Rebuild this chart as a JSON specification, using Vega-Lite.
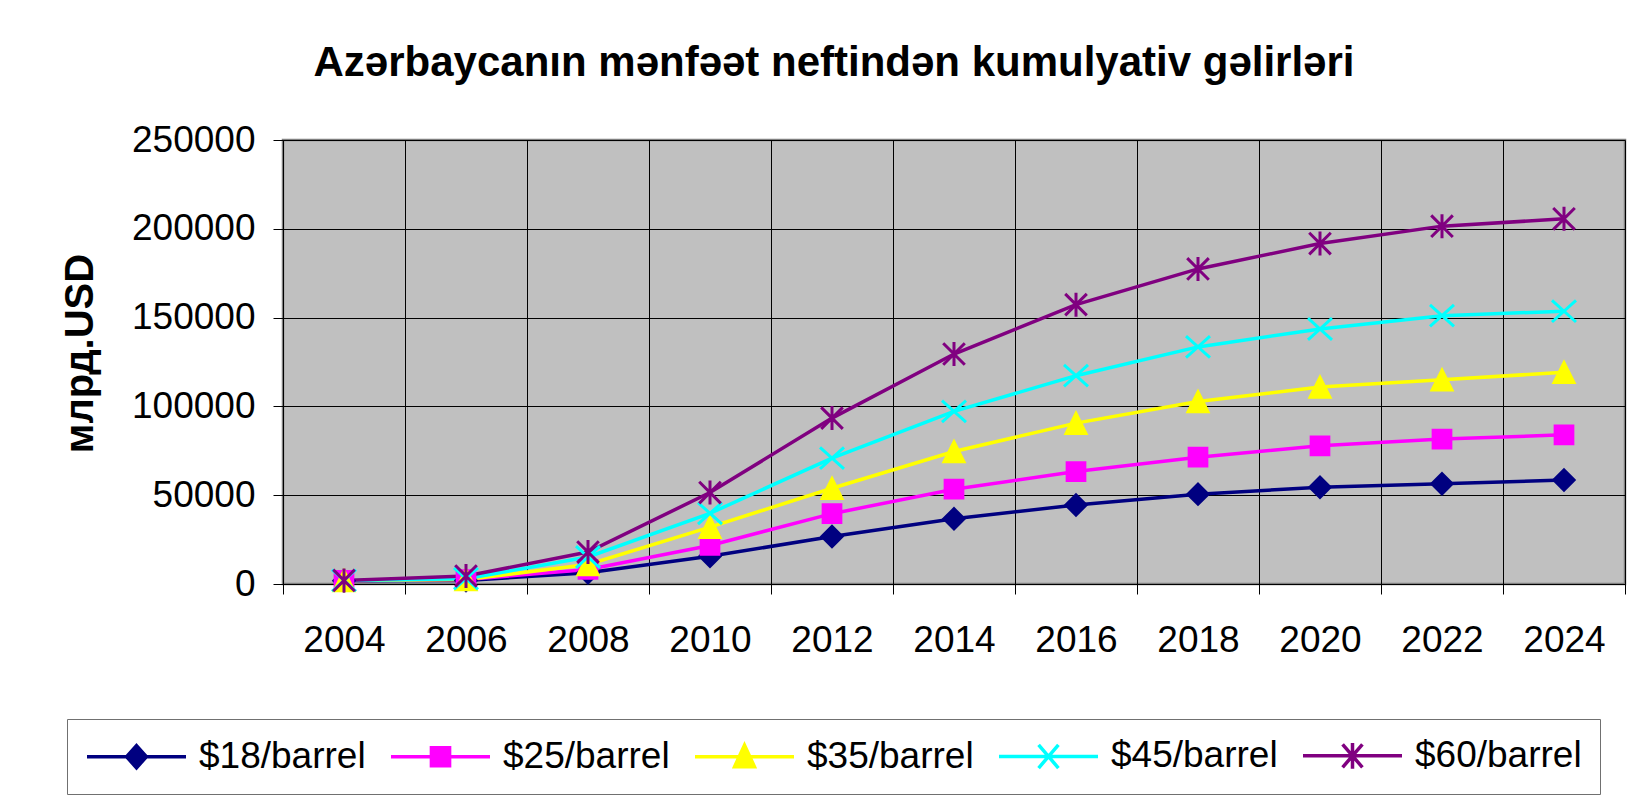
{
  "$schema": "https://vega.github.io/schema/vega-lite/v6.json",
  "width": 1342,
  "height": 444,
  "padding": {"left": 60, "top": 42, "right": 10, "bottom": 5},
  "background": "white",
  "config": {
    "font": "Liberation Sans",
    "view": {"fill": "#C0C0C0", "stroke": "#808080", "strokeWidth": 2.5},
    "legend": {
      "orient": "none",
      "legendX": -216,
      "legendY": 579,
      "direction": "horizontal",
      "strokeColor": "#707070",
      "fillColor": "#FFFFFF",
      "padding": 18,
      "symbolSize": 1089,
      "symbolOffset": 33,
      "symbolStrokeWidth": 3.5,
      "symbolOpacity": 1,
      "labelFontSize": 37,
      "labelColor": "#000000",
      "labelOffset": 44,
      "columnPadding": 18,
      "labelLimit": 0
    }
  },
  "title": {
    "text": "Azərbaycanın mənfəət neftindən kumulyativ gəlirləri",
    "font": "Liberation Sans",
    "fontSize": 42,
    "fontWeight": "bold",
    "color": "#000000",
    "anchor": "middle",
    "frame": "group",
    "dx": -120,
    "offset": 36
  },
  "data": {
    "values": [
      {"year": "2004", "series": "$18/barrel", "value": 1800},
      {"year": "2006", "series": "$18/barrel", "value": 2000},
      {"year": "2008", "series": "$18/barrel", "value": 6300},
      {"year": "2010", "series": "$18/barrel", "value": 15600},
      {"year": "2012", "series": "$18/barrel", "value": 26700},
      {"year": "2014", "series": "$18/barrel", "value": 36700},
      {"year": "2016", "series": "$18/barrel", "value": 44500},
      {"year": "2018", "series": "$18/barrel", "value": 50600},
      {"year": "2020", "series": "$18/barrel", "value": 54500},
      {"year": "2022", "series": "$18/barrel", "value": 56400},
      {"year": "2024", "series": "$18/barrel", "value": 58600},
      {"year": "2004", "series": "$25/barrel", "value": 2000},
      {"year": "2006", "series": "$25/barrel", "value": 2500},
      {"year": "2008", "series": "$25/barrel", "value": 8200},
      {"year": "2010", "series": "$25/barrel", "value": 21700},
      {"year": "2012", "series": "$25/barrel", "value": 39600},
      {"year": "2014", "series": "$25/barrel", "value": 53400},
      {"year": "2016", "series": "$25/barrel", "value": 63300},
      {"year": "2018", "series": "$25/barrel", "value": 71400},
      {"year": "2020", "series": "$25/barrel", "value": 77800},
      {"year": "2022", "series": "$25/barrel", "value": 81600},
      {"year": "2024", "series": "$25/barrel", "value": 84000},
      {"year": "2004", "series": "$35/barrel", "value": 2000},
      {"year": "2006", "series": "$35/barrel", "value": 2500},
      {"year": "2008", "series": "$35/barrel", "value": 11000},
      {"year": "2010", "series": "$35/barrel", "value": 32000},
      {"year": "2012", "series": "$35/barrel", "value": 53900},
      {"year": "2014", "series": "$35/barrel", "value": 74600},
      {"year": "2016", "series": "$35/barrel", "value": 90600},
      {"year": "2018", "series": "$35/barrel", "value": 102800},
      {"year": "2020", "series": "$35/barrel", "value": 110900},
      {"year": "2022", "series": "$35/barrel", "value": 115000},
      {"year": "2024", "series": "$35/barrel", "value": 119200},
      {"year": "2004", "series": "$45/barrel", "value": 2000},
      {"year": "2006", "series": "$45/barrel", "value": 3000},
      {"year": "2008", "series": "$45/barrel", "value": 15200},
      {"year": "2010", "series": "$45/barrel", "value": 39800},
      {"year": "2012", "series": "$45/barrel", "value": 70900},
      {"year": "2014", "series": "$45/barrel", "value": 97200},
      {"year": "2016", "series": "$45/barrel", "value": 117300},
      {"year": "2018", "series": "$45/barrel", "value": 133500},
      {"year": "2020", "series": "$45/barrel", "value": 143600},
      {"year": "2022", "series": "$45/barrel", "value": 151100},
      {"year": "2024", "series": "$45/barrel", "value": 153600},
      {"year": "2004", "series": "$60/barrel", "value": 2000},
      {"year": "2006", "series": "$60/barrel", "value": 4500},
      {"year": "2008", "series": "$60/barrel", "value": 18000},
      {"year": "2010", "series": "$60/barrel", "value": 51500},
      {"year": "2012", "series": "$60/barrel", "value": 93400},
      {"year": "2014", "series": "$60/barrel", "value": 129500},
      {"year": "2016", "series": "$60/barrel", "value": 157300},
      {"year": "2018", "series": "$60/barrel", "value": 177400},
      {"year": "2020", "series": "$60/barrel", "value": 191700},
      {"year": "2022", "series": "$60/barrel", "value": 201500},
      {"year": "2024", "series": "$60/barrel", "value": 205600}
    ]
  },
  "encoding": {
    "x": {
      "field": "year",
      "type": "ordinal",
      "scale": {"type": "band", "paddingInner": 0, "paddingOuter": 0},
      "axis": {
        "title": null,
        "tickBand": "extent",
        "grid": true,
        "gridColor": "#000000",
        "gridWidth": 1,
        "tickColor": "#000000",
        "tickSize": 10,
        "tickWidth": 1,
        "domainColor": "#000000",
        "labelAngle": 0,
        "labelFontSize": 37,
        "labelColor": "#000000",
        "labelPadding": 28
      }
    },
    "y": {
      "field": "value",
      "type": "quantitative",
      "scale": {"domain": [0, 250000], "nice": false},
      "axis": {
        "values": [0, 50000, 100000, 150000, 200000, 250000],
        "format": "d",
        "grid": true,
        "gridColor": "#000000",
        "gridWidth": 1,
        "tickColor": "#000000",
        "tickSize": 10,
        "domainColor": "#000000",
        "labelFontSize": 37,
        "labelColor": "#000000",
        "labelPadding": 18,
        "title": "млрд.USD",
        "titleFontSize": 40,
        "titleFontWeight": "bold",
        "titleColor": "#000000",
        "titlePadding": 31,
        "titleY": 213
      }
    }
  },
  "layer": [
    {
      "mark": {"type": "line", "strokeWidth": 3.5},
      "encoding": {
        "stroke": {
          "field": "series",
          "type": "nominal",
          "title": null,
          "scale": {
            "domain": ["$18/barrel", "$25/barrel", "$35/barrel", "$45/barrel", "$60/barrel"],
            "range": ["#000080", "#FF00FF", "#FFFF00", "#00FFFF", "#800080"]
          }
        }
      }
    },
    {
      "transform": [{"filter": "datum.series === '$18/barrel'"}],
      "mark": {"type": "point", "filled": true, "size": 576, "strokeWidth": 2, "opacity": 1, "fill": "#000080", "stroke": "#000080", "shape": "M0,-0.9L0.9,0L0,0.9L-0.9,0Z"}
    },
    {
      "transform": [{"filter": "datum.series === '$25/barrel'"}],
      "mark": {"type": "point", "filled": true, "size": 576, "strokeWidth": 2, "opacity": 1, "fill": "#FF00FF", "stroke": "#FF00FF", "shape": "M-0.78,-0.78L0.78,-0.78L0.78,0.78L-0.78,0.78Z"}
    },
    {
      "transform": [{"filter": "datum.series === '$35/barrel'"}],
      "mark": {"type": "point", "filled": true, "size": 576, "strokeWidth": 2, "opacity": 1, "fill": "#FFFF00", "stroke": "#FFFF00", "shape": "M0,-0.9L0.9,0.9L-0.9,0.9Z"}
    },
    {
      "transform": [{"filter": "datum.series === '$45/barrel'"}],
      "mark": {"type": "point", "filled": true, "size": 576, "strokeWidth": 3, "opacity": 1, "fill": "#00FFFF", "stroke": "#00FFFF", "shape": "M-1,-0.9L1,0.9M-1,0.9L1,-0.9"}
    },
    {
      "transform": [{"filter": "datum.series === '$60/barrel'"}],
      "mark": {"type": "point", "filled": true, "size": 576, "strokeWidth": 3, "opacity": 1, "fill": "#800080", "stroke": "#800080", "shape": "M-0.9,-0.9L0.9,0.9M-0.9,0.9L0.9,-0.9M0,-1L0,1"}
    },
    {
      "mark": {"type": "point", "filled": true, "size": 576, "strokeWidth": 3.5, "opacity": 0},
      "encoding": {
        "fill": {
          "field": "series",
          "type": "nominal",
          "title": null,
          "scale": {
            "domain": ["$18/barrel", "$25/barrel", "$35/barrel", "$45/barrel", "$60/barrel"],
            "range": ["#000080", "#FF00FF", "#FFFF00", "#00FFFF", "#800080"]
          }
        },
        "stroke": {
          "field": "series",
          "type": "nominal",
          "title": null
        },
        "shape": {
          "field": "series",
          "type": "nominal",
          "title": null,
          "scale": {
            "domain": ["$18/barrel", "$25/barrel", "$35/barrel", "$45/barrel", "$60/barrel"],
            "range": [
              "M-3,0L3,0M0,-0.67L0.6,0L0,0.67L-0.6,0Z",
              "M-3,0L3,0M-0.55,-0.55L0.55,-0.55L0.55,0.55L-0.55,0.55Z",
              "M-3,0L3,0M0,-0.7L0.6,0.6L-0.6,0.6Z",
              "M-3,0L3,0M-0.6,-0.7L0.6,0.7M-0.6,0.7L0.6,-0.7",
              "M-3,0L3,0M-0.6,-0.7L0.6,0.7M-0.6,0.7L0.6,-0.7M0,-0.78L0,0.78"
            ]
          }
        }
      }
    }
  ]
}
